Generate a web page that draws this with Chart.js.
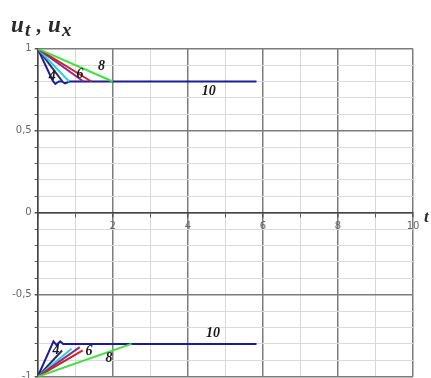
<!DOCTYPE html>
<html>
<head>
<meta charset="utf-8">
<script src="https://cdn.jsdelivr.net/npm/chart.js@4.4.1/dist/chart.umd.min.js"></script>
<style>
  html, body { margin: 0; padding: 0; background: #ffffff; }
  #wrap { width: 431px; height: 378px; position: relative; }
</style>
</head>
<body>
<div id="wrap"><canvas id="c"></canvas></div>
<script>
// Upper branch (u_t): each curve falls from 1 to the 0.8 level
const upperGreen  = [[0, 1], [2.0, 0.8]];
const upperRed    = [[0, 1], [1.43, 0.8]];
const upperPurple = [[0, 1], [1.22, 0.8]];
const upperCyan   = [[0, 1], [0.84, 0.8]];
const upperNavy   = [[0, 1], [0.66, 0.8]];
const upperBlue   = [[0, 1], [0.4, 0.805], [0.47, 0.785], [0.56, 0.8], [0.64, 0.8], [0.73, 0.788], [0.84, 0.8], [5.83, 0.8]];

// Lower branch (u_x): each curve rises from -1 towards the -0.8 level
const lowerGreen  = [[0, -1], [2.5, -0.8]];
const lowerRed    = [[0, -1], [1.2, -0.84]];
const lowerPurple = [[0, -1], [1.12, -0.82]];
const lowerCyan   = [[0, -1], [0.9, -0.83]];
const lowerNavy   = [[0, -1], [0.65, -0.84]];
const lowerBlue   = [[0, -1], [0.42, -0.785], [0.5, -0.807], [0.6, -0.785], [0.68, -0.8], [0.86, -0.8], [5.83, -0.8]];

// Curve parameter labels and where they sit (t, u)
const curveLabelText = ['4', '6', '8', '10', '4', '6', '8', '10'];
const curveLabelT    = [0.39, 1.13, 1.7, 4.56, 0.49, 1.37, 1.9, 4.67];
const curveLabelU    = [0.834, 0.846, 0.89, 0.738, -0.837, -0.848, -0.89, -0.734];

// Axis tick values that carry a label
const xTickLabels = [2, 4, 6, 8, 10];
const yTickLabels = [1, 0.5, 0, -0.5, -1];

const curveColors = {
  green: '#3ee23e',
  red: '#c8242c',
  purple: '#8a2a8e',
  cyan: '#2ed0d8',
  navy: '#2a2a70',
  blue: '#1c1c9a'
};

function toPoints(arr) { return arr.map(p => ({ x: p[0], y: p[1] })); }

function lineSet(data, color, width) {
  return {
    data: toPoints(data),
    borderColor: color,
    backgroundColor: color,
    borderWidth: width,
    pointRadius: 0,
    showLine: true,
    fill: false,
    tension: 0
  };
}

const datasets = [
  lineSet(upperGreen, curveColors.green, 2),
  lineSet(upperRed, curveColors.red, 2),
  lineSet(upperPurple, curveColors.purple, 2),
  lineSet(upperCyan, curveColors.cyan, 2),
  lineSet(upperNavy, curveColors.navy, 2),
  lineSet(upperBlue, curveColors.blue, 2),
  lineSet(lowerGreen, curveColors.green, 2),
  lineSet(lowerRed, curveColors.red, 2),
  lineSet(lowerPurple, curveColors.purple, 2),
  lineSet(lowerCyan, curveColors.cyan, 2),
  lineSet(lowerNavy, curveColors.navy, 2),
  lineSet(lowerBlue, curveColors.blue, 2)
];

const round1 = v => Math.round(v * 10) / 10;
const isHalf = v => Math.abs(Math.round(v * 2) - v * 2) < 1e-6;

// Title, axis name and curve labels
const textPlugin = {
  id: 'textPlugin',
  afterDatasetsDraw(chart) {
    const ctx = chart.ctx;
    const xs = chart.scales.x, ys = chart.scales.y;
    ctx.save();
    ctx.textBaseline = 'middle';
    ctx.textAlign = 'center';
    ctx.fillStyle = '#1a1a1a';
    ctx.font = 'italic bold 14px "Liberation Serif", "Times New Roman", serif';
    curveLabelText.forEach((txt, i) => {
      ctx.fillText(txt, xs.getPixelForValue(curveLabelT[i]), ys.getPixelForValue(curveLabelU[i]));
    });

    // u_t , u_x
    ctx.textAlign = 'left';
    ctx.textBaseline = 'alphabetic';
    ctx.fillStyle = '#2a2a2a';
    ctx.font = 'italic bold 23px "Liberation Serif", serif';
    ctx.fillText('u', 11, 32);
    ctx.font = 'italic bold 19px "Liberation Serif", serif';
    ctx.fillText('t', 25, 36);
    ctx.font = 'bold 20px "Liberation Serif", serif';
    ctx.fillText(',', 36, 32);
    ctx.font = 'italic bold 23px "Liberation Serif", serif';
    ctx.fillText('u', 48, 32);
    ctx.font = 'italic bold 19px "Liberation Serif", serif';
    ctx.fillText('x', 62, 36);

    // axis name t
    ctx.font = 'italic bold 17px "Liberation Serif", serif';
    ctx.fillText('t', 424, 222);
    ctx.restore();
  }
};

new Chart(document.getElementById('c'), {
  type: 'scatter',
  data: { datasets },
  options: {
    responsive: true,
    maintainAspectRatio: false,
    animation: false,
    devicePixelRatio: 1,
    layout: { padding: { top: 48.7, right: 18, bottom: 1.3, left: 0 } },
    plugins: {
      legend: { display: false },
      tooltip: { enabled: false },
      title: { display: false }
    },
    scales: {
      x: {
        type: 'linear',
        position: { y: 0 },
        min: 0,
        max: 10,
        afterFit(scale) { scale.paddingLeft = 0; scale.paddingRight = 0; },
        ticks: {
          stepSize: 1,
          autoSkip: false,
          maxRotation: 0,
          padding: 4,
          color: '#666666',
          font: { family: '"DejaVu Sans", sans-serif', size: 10 },
          callback: v => (xTickLabels.includes(v) ? String(v) : '')
        },
        grid: {
          drawTicks: true,
          tickLength: 4,
          color: ctx => (ctx.tick && ctx.tick.value % 2 === 0 ? '#7c7c7c' : '#d8d8d8'),
          lineWidth: ctx => (ctx.tick && ctx.tick.value % 2 === 0 ? 1.5 : 1),
          tickColor: '#555555'
        },
        border: { display: true, color: '#444444', width: 1.5 }
      },
      y: {
        type: 'linear',
        position: 'left',
        min: -1,
        max: 1,
        afterFit(scale) { scale.width = 37.7; scale.paddingTop = 0; scale.paddingBottom = 0; },
        ticks: {
          stepSize: 0.1,
          autoSkip: false,
          padding: 3,
          color: '#666666',
          font: { family: '"DejaVu Sans", sans-serif', size: 10 },
          callback: v => {
            const r = round1(v);
            if (!yTickLabels.includes(r)) return '';
            return String(r).replace('.', ',');
          }
        },
        grid: {
          drawTicks: true,
          tickLength: 3,
          color: ctx => (ctx.tick && isHalf(ctx.tick.value) ? '#7c7c7c' : '#dadada'),
          lineWidth: ctx => (ctx.tick && isHalf(ctx.tick.value) ? 1.5 : 1),
          tickColor: '#555555'
        },
        border: { display: true, color: '#444444', width: 1.5 }
      }
    }
  },
  plugins: [textPlugin]
});
</script>
</body>
</html>
